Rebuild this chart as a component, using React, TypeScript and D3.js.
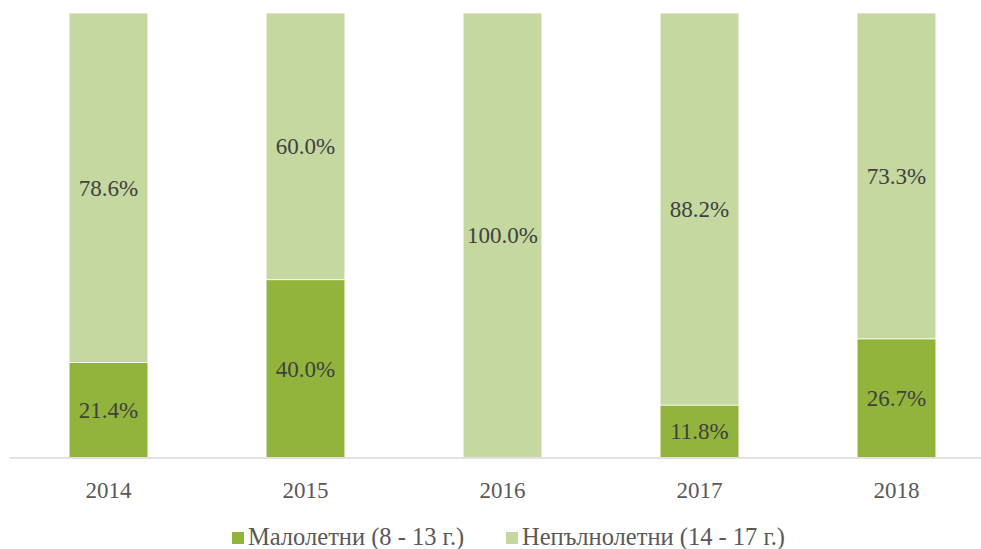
import React from "react";
import * as d3 from "d3";

const years = ["2014", "2015", "2016", "2017", "2018"];
const minors = [21.4, 40.0, 0, 11.8, 26.7];
const juveniles = [78.6, 60.0, 100.0, 88.2, 73.3];
const seriesNames = ["Малолетни (8 - 13 г.)", "Непълнолетни (14 - 17 г.)"];
const colors = ["#93B43C", "#C5D8A0"];

const W = 981;
const H = 549;
const FONT = "Liberation Serif, Times New Roman, Times, serif";

export default function App() {
  const x = d3.scaleBand<string>().domain(years).range([10, 995]).paddingInner(0.6).paddingOuter(0.3);
  const y = d3.scaleLinear().domain([0, 100]).range([457.5, 13]);
  const bw = x.bandwidth();

  const rows = years.map((yr, i) => ({ yr, vals: [minors[i], juveniles[i]] }));
  const stack = d3.stack<any>().keys(["0", "1"]).value((d: any, k: string) => d.vals[+k]);
  const stacked = stack(rows as any);

  const ts = { fontFamily: FONT, fontSize: "23px" };
  const ls = { fontFamily: FONT, fontSize: "24.5px" };

  return (
    <svg width={W} height={H} style={{ position: "absolute", left: 0, top: 0, background: "#fff" }}>
      {stacked.map((s, si) =>
        s.map((d, i) => {
          const v = d[1] - d[0];
          if (v <= 0) return null;
          const x0 = x(years[i])!;
          const yTop = y(d[1]);
          const yBot = y(d[0]);
          return (
            <g key={`${si}-${i}`}>
              <rect x={x0} y={yTop} width={bw} height={yBot - yTop} fill={colors[si]} stroke="#fff" strokeWidth={0.75} />
              <text x={x0 + bw / 2} y={(yTop + yBot) / 2 + 8} textAnchor="middle" style={ts} fill="#404040">
                {v.toFixed(1)}%
              </text>
            </g>
          );
        })
      )}
      <line x1={10} x2={995} y1={458} y2={458} stroke="#D9D9D9" strokeWidth={1.5} />
      {years.map((yr) => (
        <text key={yr} x={x(yr)! + bw / 2} y={498} textAnchor="middle" style={ts} fill="#595959">
          {yr}
        </text>
      ))}
      <g>
        <rect x={232} y={532} width={12} height={12} fill={colors[0]} />
        <text x={248} y={545} style={ls} fill="#595959">{seriesNames[0]}</text>
        <rect x={506} y={532} width={12} height={12} fill={colors[1]} />
        <text x={522} y={545} style={ls} fill="#595959">{seriesNames[1]}</text>
      </g>
    </svg>
  );
}
